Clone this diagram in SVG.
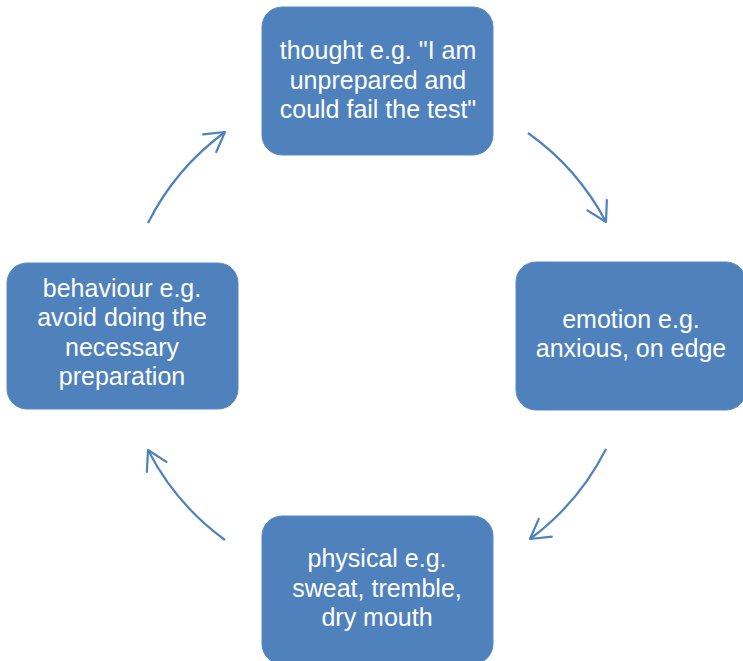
<svg xmlns="http://www.w3.org/2000/svg" width="743" height="661" viewBox="0 0 743 661">
<defs>
<style>
.box{fill:#4f81bd;stroke:#5a8ac4;stroke-width:1}
.lbl{font-family:"Liberation Sans",Arial,sans-serif;font-size:25px;fill:#ffffff;text-anchor:middle}
.conn{fill:none;stroke:#4f81bd;stroke-width:2.2}
</style>
<marker id="arr" markerUnits="userSpaceOnUse" orient="auto" markerWidth="30" markerHeight="30" viewBox="-25 -15 30 30" refX="0" refY="0" overflow="visible">
<path d="M-19,-11 L0,0 L-19,11" fill="none" stroke="#4f81bd" stroke-width="2.2" stroke-linecap="round" stroke-linejoin="round"/>
</marker>
</defs>
<rect width="743" height="661" fill="#ffffff"/>
<g id="connectors">
<path class="conn" d="M528,133 A255,255 0 0 1 606,222" marker-end="url(#arr)"/>
<path class="conn" d="M606,449 A255,255 0 0 1 530,539" marker-end="url(#arr)"/>
<path class="conn" d="M225,540 A255,255 0 0 1 148,450" marker-end="url(#arr)"/>
<path class="conn" d="M148,223 A255,255 0 0 1 225,132" marker-end="url(#arr)"/>
</g>
<g id="thought">
<rect class="box" x="262" y="7" width="231" height="148" rx="20"/>
<text class="lbl"><tspan x="378" y="59">thought e.g. "I am</tspan><tspan x="378" y="89">unprepared and</tspan><tspan x="378" y="118">could fail the test"</tspan></text>
</g>
<g id="emotion">
<rect class="box" x="516" y="262" width="230" height="148" rx="20"/>
<text class="lbl"><tspan x="631" y="328">emotion e.g.</tspan><tspan x="631" y="357">anxious, on edge</tspan></text>
</g>
<g id="physical">
<rect class="box" x="262" y="516" width="231" height="148" rx="20"/>
<text class="lbl"><tspan x="377" y="567">physical e.g.</tspan><tspan x="377" y="597">sweat, tremble,</tspan><tspan x="377" y="626">dry mouth</tspan></text>
</g>
<g id="behaviour">
<rect class="box" x="7" y="263" width="231" height="146" rx="20"/>
<text class="lbl"><tspan x="122" y="297">behaviour e.g.</tspan><tspan x="122" y="326">avoid doing the</tspan><tspan x="122" y="356">necessary</tspan><tspan x="122" y="385">preparation</tspan></text>
</g>
</svg>
